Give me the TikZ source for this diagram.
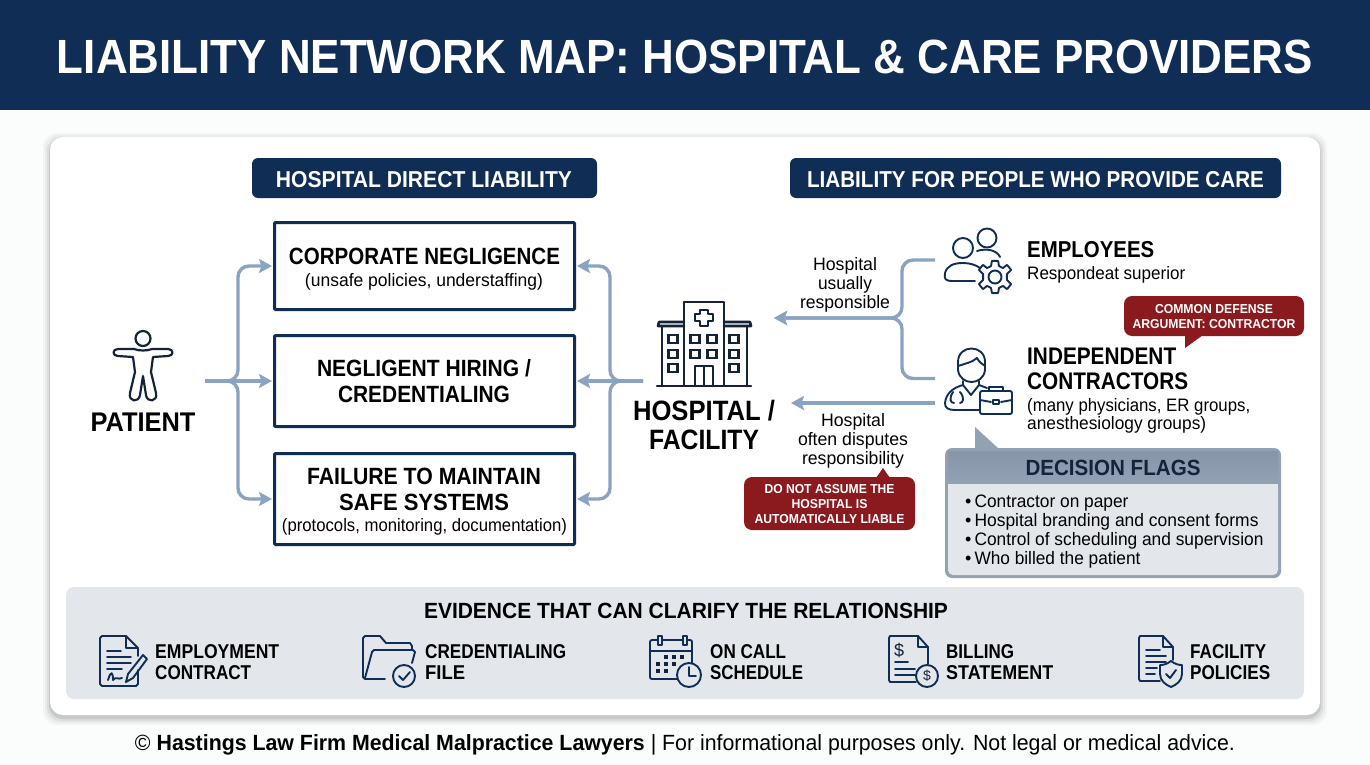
\documentclass[tikz,border=0pt]{standalone}
\usepackage{fontspec}
\usepackage{graphicx}
\setmainfont{Liberation Sans}
\usetikzlibrary{arrows.meta,calc}
\definecolor{navy}{HTML}{102D56}
\definecolor{ink}{HTML}{14233A}
\definecolor{flowc}{HTML}{8AA3C2}
\definecolor{redn}{HTML}{8B1A1F}
\definecolor{panelc}{HTML}{E3E7EC}
\definecolor{flagh}{HTML}{93A1B4}
\definecolor{flagt}{HTML}{8795A9}
\definecolor{pagec}{HTML}{FBFCFC}
\newcommand{\FS}[2]{\fontsize{#1pt}{#2pt}\selectfont}
\newcommand{\WW}[2]{\resizebox{#1pt}{\height}{#2}}
\tikzset{
  x=1pt,y=-1pt,
  flow/.style={draw=flowc,line width=3.4pt,rounded corners=11pt},
  head/.style={-{Stealth[length=13pt,width=14pt,inset=2.5pt]},shorten >=1pt},
  icon/.style={draw=navy,line width=1.9pt,line join=round,line cap=round},
  iconb/.style={draw=ink,line width=2.6pt,line join=round,line cap=round},
  pill/.style={fill=navy,rounded corners=6pt,text=white,inner sep=0pt,font=\bfseries\FS{23}{26}},
  lbox/.style={draw=navy,line width=3pt,fill=white,inner sep=0pt,rounded corners=1pt},
  bhead/.style={inner sep=0pt,text=black,font=\bfseries\FS{23.5}{26}},
  bsub/.style={inner sep=0pt,text=black,font=\FS{18}{22}},
  redbox/.style={fill=redn,rounded corners=8pt},
  redtxt/.style={text=white,font=\bfseries\FS{13}{15},align=center,inner sep=0pt},
  bt/.style={text=black,font=\FS{18}{19},align=center,inner sep=0pt},
  lt/.style={text=black,align=left,inner sep=0pt,anchor=west},
  ev/.style={text=black,align=left,inner sep=0pt,anchor=west,font=\bfseries\FS{20}{21}},
}
\begin{document}
\begin{tikzpicture}
\useasboundingbox (0,0) rectangle (1370,765);
\fill[pagec] (0,0) rectangle (1370,765);
% header
\fill[navy] (0,0) rectangle (1370,110);
\node[text=white,inner sep=0pt,font=\bfseries\FS{48}{50}] (title) at (685,57) {\WW{1256}{LIABILITY NETWORK MAP: HOSPITAL \& CARE PROVIDERS}};
% card with soft shadow
\foreach \g/\o in {7/.03,5/.04,3/.06,1/.09}{
  \fill[black,opacity=\o,rounded corners=14pt] (50-\g,137-\g+3) rectangle (1320+\g,715+\g+3);
}
\fill[white,rounded corners=13pt] (50,137) rectangle (1320,715);
% pills
\node[pill,minimum width=345pt,minimum height=40pt] (pilla) at (424.5,178) {};
\node[inner sep=0pt,text=white,font=\bfseries\FS{23}{26}] (pillat) at (424,179.5) {\WW{296}{HOSPITAL DIRECT LIABILITY}};
\node[pill,minimum width=491pt,minimum height=40pt] (pillb) at (1035.5,178) {};
\node[inner sep=0pt,text=white,font=\bfseries\FS{23}{26}] (pillbt) at (1035.5,179.5) {\WW{457}{LIABILITY FOR PEOPLE WHO PROVIDE CARE}};
% boxes
\node[lbox,minimum width=300pt,minimum height=87pt] (box1) at (424.5,266) {};
\node[bhead] (boxat) at (424.5,256) {\WW{271}{CORPORATE NEGLIGENCE}};
\node[bsub] (boxas) at (424,281.5) {\WW{238}{(unsafe policies, understaffing)}};
\node[lbox,minimum width=300pt,minimum height=91pt] (box2) at (424.5,381) {};
\node[bhead] (boxbt) at (424,368.5) {\WW{214}{NEGLIGENT HIRING /}};
\node[bhead] (boxbu) at (424,394) {\WW{172}{CREDENTIALING}};
\node[lbox,minimum width=300pt,minimum height=91pt] (box3) at (424.5,499) {};
\node[bhead] (boxct) at (424,476) {\WW{234}{FAILURE TO MAINTAIN}};
\node[bhead] (boxcu) at (424,502) {\WW{170}{SAFE SYSTEMS}};
\node[bsub] (boxcs) at (424.5,526.5) {\WW{285}{(protocols, monitoring, documentation)}};
% patient
\node[circle,draw=ink,line width=2.2pt,minimum size=15pt,inner sep=0pt] (pathead) at (143,338.5) {};
\draw[draw=ink,line width=2.2pt,line join=round] (134,349) -- (118,349) .. controls (112,349) and (112,356) .. (118,356) -- (133,357)
  -- (135,372) -- (130,393) .. controls (128,402) and (139,403) .. (140,395) -- (143,376) -- (146,395)
  .. controls (147,403) and (158,402) .. (156,393) -- (151,372) -- (153,357) -- (168,356)
  .. controls (174,356) and (174,349) .. (168,349) -- (152,349) .. controls (147,351) and (139,351) .. (134,349) -- cycle;
\node[inner sep=0pt,text=black,font=\bfseries\FS{27}{28}] (patient) at (143,422) {\WW{105}{PATIENT}};
\coordinate (patout) at (205,381);
\coordinate (railL) at (238,381);
\draw[flow,head] (patout) -- (railL) |- (box1.west);
\draw[flow,head] (patout) -- (railL) |- (box3.west);
\draw[flow,head] (patout) -- (box2.west);
% hospital arrows
\coordinate (hosout) at (643,381);
\coordinate (railH) at (610,381);
\draw[flow,head] (hosout) -- (railH) |- (box1.east);
\draw[flow,head] (hosout) -- (railH) |- (box3.east);
\draw[flow,head] (hosout) -- (box2.east);
% hospital icon
\begin{scope}
\draw[iconb] (657,386) -- (751,386);
\draw[iconb] (662,386) -- (662,326) (747,386) -- (747,326);
\draw[iconb] (684,322) -- (659,322) -- (658,326) -- (684,326) (724,322) -- (750,322) -- (751,326) -- (724,326);
\draw[iconb] (684,386) -- (684,302) -- (724,302) -- (724,386);
\draw[iconb] (700,310) -- (708,310) -- (708,314) -- (713,314) -- (713,321) -- (708,321) -- (708,326) -- (700,326) -- (700,321) -- (695,321) -- (695,314) -- (700,314) -- cycle;
\foreach \wx/\wy in {673/339,673/354,673/368,695/339,695/354,712/339,712/354,734/339,734/354,734/368}{
  \draw[draw=ink,line width=2.2pt] (\wx-4.5,\wy-4) rectangle (\wx+4.5,\wy+4);
}
\draw[iconb] (695,386) -- (695,366) -- (713,366) -- (713,386) (704,366) -- (704,386);
\end{scope}
\node[inner sep=0pt,text=black,align=center,font=\bfseries\FS{28}{29}] (hospital) at (704,425) {\WW{142}{HOSPITAL /}\\\WW{110}{FACILITY}};
% right connectors
\coordinate (empout) at (935,260);
\coordinate (conouta) at (935,378.5);
\coordinate (conoutb) at (935,403);
\coordinate (railR) at (902,318);
\coordinate (hosin) at (773,318);
\coordinate (hosinb) at (790,403);
\draw[flow,head] (empout) -| (railR) -- (hosin);
\draw[flow,head] (conouta) -| (railR) -- (hosin);
\draw[flow,head] (conoutb) -- (hosinb);
\node[bt] (usual) at (845,285) {\WW{64}{Hospital}\\\WW{54}{usually}\\\WW{90}{responsible}};
\node[bt] (dispute) at (853,441) {\WW{64}{Hospital}\\\WW{110}{often disputes}\\\WW{102}{responsibility}};
% red note lower
\fill[redbox] (744,477) rectangle (915,530);
\fill[redn] (876,478) -- (883,468) -- (890,478) -- cycle;
\node[redtxt] (nota) at (829.5,504) {\WW{130}{DO NOT ASSUME THE}\\\WW{76}{HOSPITAL IS}\\\WW{150}{AUTOMATICALLY LIABLE}};
% employees icon
\draw[icon] (963,248) circle (10pt);
\draw[icon] (975,281) -- (953,281) .. controls (945,281) and (944,279) .. (945,273) .. controls (947,266) and (953,263) .. (963,263) .. controls (970,263) and (976,265) .. (980,268);
\draw[icon] (987,238) circle (9.5pt);
\draw[icon] (977,251) .. controls (986,248) and (997,250) .. (1000,257);
\draw[icon] (995,277) circle (6.5pt);
\draw[icon] plot[smooth cycle,tension=.15] coordinates {
 (992,261) (998,261) (999,266) (1003,268) (1007,265) (1011,270) (1007,274) (1007,280) (1011,284) (1007,289)
 (1003,286) (999,288) (998,293) (992,293) (991,288) (987,286) (983,289) (979,284) (983,280) (983,274) (979,270) (983,265) (987,268) (991,266)};
\node[lt,font=\bfseries\FS{23}{24}] (emp) at (1027,250) {\WW{127}{EMPLOYEES}};
\node[lt,font=\FS{18}{20}] (resp) at (1027,274.5) {\WW{158}{Respondeat superior}};
% red note upper
\fill[redbox] (1124,296) rectangle (1304,336);
\fill[redn] (1185,335) -- (1203,335) -- (1185,348) -- cycle;
\node[redtxt] (notb) at (1214,317) {\WW{118}{COMMON DEFENSE}\\\WW{163}{ARGUMENT: CONTRACTOR}};
% contractor icon
\draw[icon] (958,362) .. controls (958,344) and (985,344) .. (985,362) -- (985,370) .. controls (983,386) and (960,386) .. (958,370) -- cycle;
\draw[icon] (958,366) .. controls (964,364) and (973,362) .. (977,358) .. controls (979,362) and (982,364) .. (985,366);
\draw[icon] (963,381) -- (963,385) -- (971,395) -- (979,385) -- (979,381);
\draw[icon] (963,385) .. controls (952,388) and (946,394) .. (945,403) .. controls (945,408) and (948,410) .. (955,410) -- (979,410);
\draw[icon] (979,385) -- (987,388);
\draw[icon] (953,392) .. controls (949,398) and (950,403) .. (954,403) (960,392) .. controls (965,398) and (963,403) .. (960,403);
\draw[icon,rounded corners=2pt] (980,391) rectangle (1012,414);
\draw[icon] (989,391) -- (989,387) -- (1003,387) -- (1003,391);
\draw[icon] (980,400) -- (991,402) (1001,402) -- (1012,400);
\draw[icon] (993,400) rectangle (999,404);
\node[lt,font=\bfseries\FS{24}{25}] (indep) at (1027,368.5) {\WW{149}{INDEPENDENT}\\\WW{161}{CONTRACTORS}};
\node[lt,font=\FS{18}{18}] (many) at (1027,416) {\WW{223}{(many physicians, ER groups,}\\\WW{179}{anesthesiology groups)}};
% decision flags
\fill[flagh,rounded corners=7pt] (945,448) rectangle (1281,578);
\fill[flagh] (975,427) -- (999,449) -- (975,449) -- cycle;
\shade[top color=flagt,bottom color=flagh] (948,451) rectangle (1278,484);
\fill[panelc,rounded corners=5pt] (948,484) -- (1278,484) -- (1278,575) -- (948,575) -- cycle;
\fill[panelc] (948,484) rectangle (1278,495);
\node[inner sep=0pt,text=ink,font=\bfseries\FS{22}{24}] (flagt) at (1113,468) {\WW{175}{DECISION FLAGS}};
\node[lt,font=\FS{18}{19}] (flagl) at (965,531.5) {%
\textbullet\hspace{3pt}\WW{154}{Contractor on paper}\\
\textbullet\hspace{3pt}\WW{284}{Hospital branding and consent forms}\\
\textbullet\hspace{3pt}\WW{289}{Control of scheduling and supervision}\\
\textbullet\hspace{3pt}\WW{166}{Who billed the patient}};
% evidence
\fill[panelc,rounded corners=8pt] (66,587) rectangle (1304,699);
\node[inner sep=0pt,text=black,font=\bfseries\FS{22}{24}] (evt) at (686,611) {\WW{524}{EVIDENCE THAT CAN CLARIFY THE RELATIONSHIP}};
% contract icon
\draw[icon] (126,636) -- (102,636) -- (100,638) -- (100,684) -- (102,686) -- (136,686) -- (138,684) -- (138,670);
\draw[icon] (126,636) -- (138,648) -- (138,656) (126,636) -- (126,648) -- (138,648);
\draw[icon] (107,651) -- (121,651) (107,657) -- (131,657) (107,663) -- (131,663) (107,669) -- (122,669);
\draw[icon] (108,680) .. controls (111,670) and (113,672) .. (113,680) .. controls (116,676) and (118,680) .. (122,678);
\draw[icon] (143,655) -- (147,659) -- (133,678) -- (126,682) -- (128,674) -- cycle;
\node[ev] (ea) at (155,662) {\WW{124}{EMPLOYMENT}\\\WW{96}{CONTRACT}};
% folder icon
\draw[icon] (385,679) -- (365,679) -- (363,677) -- (363,638) -- (365,636) -- (380,636) -- (386,643) -- (410,643) -- (412,646) -- (412,650);
\draw[icon] (365,678) -- (372,652) -- (374,650) -- (413,650) -- (415,652) -- (412,663);
\node[circle,icon,fill=panelc,minimum size=22pt,inner sep=0pt] (foldc) at (404,676) {};
\draw[icon] (399,676) -- (403,680) -- (410,672);
\node[ev] (eb) at (425,662) {\WW{141}{CREDENTIALING}\\\WW{40}{FILE}};
% calendar icon
\draw[icon,rounded corners=2pt] (650,640) rectangle (692,679);
\draw[icon] (650,651) -- (692,651);
\draw[icon,fill=panelc] (658,636) rectangle (662,645) (683,636) rectangle (687,645);
\foreach \cx/\cy in {666/657,674/657,682/657,658/664,666/664,674/664,658/671,666/671}{
  \fill[ink] (\cx-2.2,\cy-2) rectangle (\cx+2.2,\cy+2);
}
\node[circle,icon,fill=panelc,minimum size=24pt,inner sep=0pt] (clock) at (689,675) {};
\draw[icon] (689,667) -- (689,676) -- (696,676);
\node[ev] (ec) at (710,662) {\WW{76}{ON CALL}\\\WW{93}{SCHEDULE}};
% billing icon
\draw[icon] (918,636) -- (890,636) -- (889,638) -- (889,680) -- (890,682) -- (916,682);
\draw[icon] (918,636) -- (928,647) -- (928,664) (918,636) -- (918,647) -- (928,647);
\node[inner sep=0pt,text=ink,font=\FS{18}{18}] (bd) at (899,650) {\$};
\draw[icon] (895,662) -- (908,662) (895,669) -- (915,669) (895,675) -- (915,675);
\node[circle,icon,fill=panelc,minimum size=22pt,inner sep=0pt,text=ink,font=\FS{14}{14}] (coin) at (927,676) {\$};
\node[ev] (ed) at (946,662) {\WW{68}{BILLING}\\\WW{107}{STATEMENT}};
% policy icon
\draw[icon] (1163,636) -- (1140,636) -- (1139,638) -- (1139,679) -- (1140,681) -- (1160,681);
\draw[icon] (1163,636) -- (1173,647) -- (1173,660) (1163,636) -- (1163,647) -- (1173,647);
\draw[icon] (1146,650) -- (1160,650) (1146,656) -- (1166,656) (1146,662) -- (1166,662) (1146,668) -- (1157,668) (1146,674) -- (1155,674);
\draw[icon,fill=panelc] (1171,661) .. controls (1175,664) and (1178,665) .. (1182,665) -- (1182,674) .. controls (1182,681) and (1176,685) .. (1171,687) .. controls (1166,685) and (1160,681) .. (1160,674) -- (1160,665) .. controls (1164,665) and (1167,664) .. (1171,661) -- cycle;
\draw[icon] (1166,674) -- (1170,678) -- (1176,670);
\node[ev] (ee) at (1190,662) {\WW{76}{FACILITY}\\\WW{80}{POLICIES}};
% footer
\node[inner sep=0pt,text=black,font=\FS{22}{24}] (foot) at (685,745) {\WW{1100}{© \textbf{Hastings Law Firm Medical Malpractice Lawyers} | For informational purposes only. Not legal or medical advice.}};
\end{tikzpicture}
\end{document}
